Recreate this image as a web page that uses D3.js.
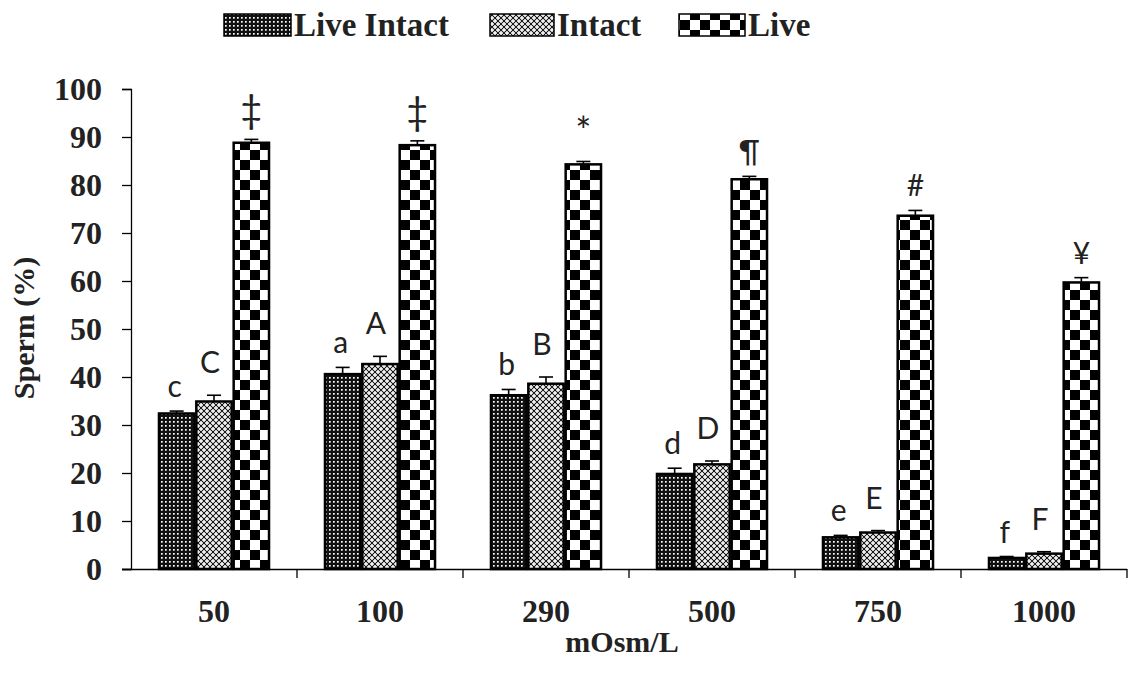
<!DOCTYPE html>
<html>
<head>
<meta charset="utf-8">
<script src="https://cdn.jsdelivr.net/npm/d3@7"></script>
<style>
  body { margin: 0; background: #fff; }
  svg { display: block; }
</style>
</head>
<body>
<div id="chart"></div>
<script>
const categories = ['50', '100', '290', '500', '750', '1000'];
const seriesNames = ['Live Intact', 'Intact', 'Live'];
const liveIntact = [32.4, 40.6, 36.2, 19.8, 6.6, 2.3];
const intact = [34.9, 42.7, 38.6, 21.8, 7.6, 3.2];
const live = [88.8, 88.3, 84.3, 81.2, 73.6, 59.7];
const liveIntactErr = [0.5, 1.4, 1.2, 1.2, 0.4, 0.3];
const intactErr = [1.3, 1.6, 1.4, 0.7, 0.4, 0.4];
const liveErr = [0.7, 0.9, 0.6, 0.6, 1.1, 1.0];
const lettersLower = ['c', 'a', 'b', 'd', 'e', 'f'];
const lettersUpper = ['C', 'A', 'B', 'D', 'E', 'F'];
const liveMarks = ['\u2021', '\u2021', '*', '\u00b6', '#', '\u00a5'];
const yTicks = [0, 10, 20, 30, 40, 50, 60, 70, 80, 90, 100];

const width = 1128, height = 679;
const svg = d3.select('#chart').append('svg')
  .attr('width', width)
  .attr('height', height);

// fill patterns
const defs = svg.append('defs');
const p1 = defs.append('pattern').attr('id', 'patLI')
  .attr('patternUnits', 'userSpaceOnUse').attr('width', 4).attr('height', 4);
p1.append('rect').attr('width', 4).attr('height', 4).attr('fill', '#111');
p1.append('rect').attr('x', 1).attr('y', 1).attr('width', 1.7).attr('height', 1.7).attr('fill', '#fff');

const p2 = defs.append('pattern').attr('id', 'patI')
  .attr('patternUnits', 'userSpaceOnUse').attr('width', 6).attr('height', 6);
p2.append('rect').attr('width', 6).attr('height', 6).attr('fill', '#1a1a1a');
[[3, 3], [0, 0], [6, 0], [0, 6], [6, 6]].forEach(([cx, cy]) => {
  p2.append('rect').attr('x', cx - 2).attr('y', cy - 0.75).attr('width', 4).attr('height', 1.5).attr('fill', '#fff');
  p2.append('rect').attr('x', cx - 0.75).attr('y', cy - 2).attr('width', 1.5).attr('height', 4).attr('fill', '#fff');
});

const p3 = defs.append('pattern').attr('id', 'patL')
  .attr('patternUnits', 'userSpaceOnUse').attr('width', 20).attr('height', 20);
p3.append('rect').attr('width', 20).attr('height', 20).attr('fill', '#fff');
p3.append('rect').attr('width', 10).attr('height', 10).attr('fill', '#000');
p3.append('rect').attr('x', 10).attr('y', 10).attr('width', 10).attr('height', 10).attr('fill', '#000');

const fills = ['url(#patLI)', 'url(#patI)', 'url(#patL)'];

// scales
const x0 = d3.scaleBand().domain(categories).range([131, 1127])
  .paddingInner(0.325).paddingOuter(0.1625);
const x1 = d3.scaleBand().domain(seriesNames).range([0, x0.bandwidth()]);
const y = d3.scaleLinear().domain([0, 100]).range([569, 89]);

// axes
const serif = '"Liberation Serif", "Times New Roman", serif';
const gY = svg.append('g').attr('transform', 'translate(131,0)')
  .call(d3.axisLeft(y).tickValues(yTicks).tickSize(9).tickPadding(20));
gY.selectAll('text').attr('font-family', serif).attr('font-weight', 'bold')
  .attr('font-size', 32).attr('fill', '#222');

const gX = svg.append('g').attr('transform', 'translate(0,569)')
  .call(d3.axisBottom(x0).tickSize(0).tickPadding(30));
gX.selectAll('text').attr('font-family', serif).attr('font-weight', 'bold')
  .attr('font-size', 32).attr('fill', '#222');

// boundary ticks between groups
const step = x0.step();
svg.append('g').selectAll('line')
  .data(categories.slice(1).concat(['end']))
  .join('line')
  .attr('x1', (d, i) => 131 + step * (i + 1))
  .attr('x2', (d, i) => 131 + step * (i + 1))
  .attr('y1', 569).attr('y2', 578)
  .attr('stroke', '#000').attr('stroke-width', 1.3);
[gX, gY].forEach(g => g.selectAll('.domain, .tick line').attr('stroke', '#000').attr('stroke-width', 1.3));
gX.select('.domain').attr('d', 'M122,0.5H1127');

// bars
const seriesVals = [liveIntact, intact, live];
const seriesErr = [liveIntactErr, intactErr, liveErr];
const barData = [];
categories.forEach((c, i) => {
  seriesNames.forEach((s, j) => {
    barData.push({ cat: c, s: s, j: j, v: seriesVals[j][i], e: seriesErr[j][i], i: i });
  });
});

svg.append('g').selectAll('rect')
  .data(barData)
  .join('rect')
  .attr('x', d => x0(d.cat) + x1(d.s) + 1)
  .attr('y', d => y(d.v))
  .attr('width', x1.bandwidth() - 2)
  .attr('height', d => y(0) - y(d.v))
  .attr('fill', d => fills[d.j])
  .attr('stroke', '#000')
  .attr('stroke-width', 2.5);

// error bars (upper only)
const eb = svg.append('g').attr('stroke', '#000').attr('stroke-width', 1.6);
barData.forEach(d => {
  const cx = x0(d.cat) + x1(d.s) + x1.bandwidth() / 2;
  eb.append('line').attr('x1', cx).attr('x2', cx).attr('y1', y(d.v)).attr('y2', y(d.v + d.e));
  eb.append('line').attr('x1', cx - 7).attr('x2', cx + 7).attr('y1', y(d.v + d.e)).attr('y2', y(d.v + d.e));
});

// significance letters
const sans = 'Lato, "Open Sans", sans-serif';
const lab = svg.append('g').attr('font-family', sans).attr('font-size', 30)
  .attr('fill', '#222').attr('text-anchor', 'middle');
categories.forEach((c, i) => {
  const cx0 = x0(c) + x1('Live Intact') + x1.bandwidth() / 2;
  const cx1 = x0(c) + x1('Intact') + x1.bandwidth() / 2;
  const cx2 = x0(c) + x1('Live') + x1.bandwidth() / 2;
  lab.append('text').attr('x', cx0 - 2).attr('y', y(liveIntact[i] + liveIntactErr[i]) - 14).text(lettersLower[i]);
  lab.append('text').attr('x', cx1 - 4).attr('y', y(intact[i] + intactErr[i]) - 22).text(lettersUpper[i]);
  const big = liveMarks[i] === '\u2021' || liveMarks[i] === '*';
  lab.append('text').attr('x', cx2).attr('y', y(live[i] + liveErr[i]) - (big ? 16 : 14))
    .attr('font-size', big ? 38 : 30)
    .text(liveMarks[i]);
});

// axis titles
svg.append('text').attr('x', 622).attr('y', 652)
  .attr('text-anchor', 'middle').attr('font-family', serif).attr('font-weight', 'bold')
  .attr('font-size', 30).attr('fill', '#222').text('mOsm/L');
svg.append('text').attr('transform', 'translate(34,328) rotate(-90)')
  .attr('text-anchor', 'middle').attr('font-family', serif).attr('font-weight', 'bold')
  .attr('font-size', 30).attr('fill', '#222').text('Sperm (%)');

// legend
const legendX = [224, 490, 679];
const legendW = [67, 64, 66];
const leg = svg.append('g');
seriesNames.forEach((s, j) => {
  leg.append('rect').attr('x', legendX[j]).attr('y', 14).attr('width', legendW[j]).attr('height', 22)
    .attr('fill', fills[j]).attr('stroke', '#000').attr('stroke-width', 1.5);
  leg.append('text').attr('x', legendX[j] + legendW[j] + 3).attr('y', 36)
    .attr('font-family', serif).attr('font-weight', 'bold').attr('font-size', 33)
    .attr('fill', '#222').text(s);
});
</script>
</body>
</html>
